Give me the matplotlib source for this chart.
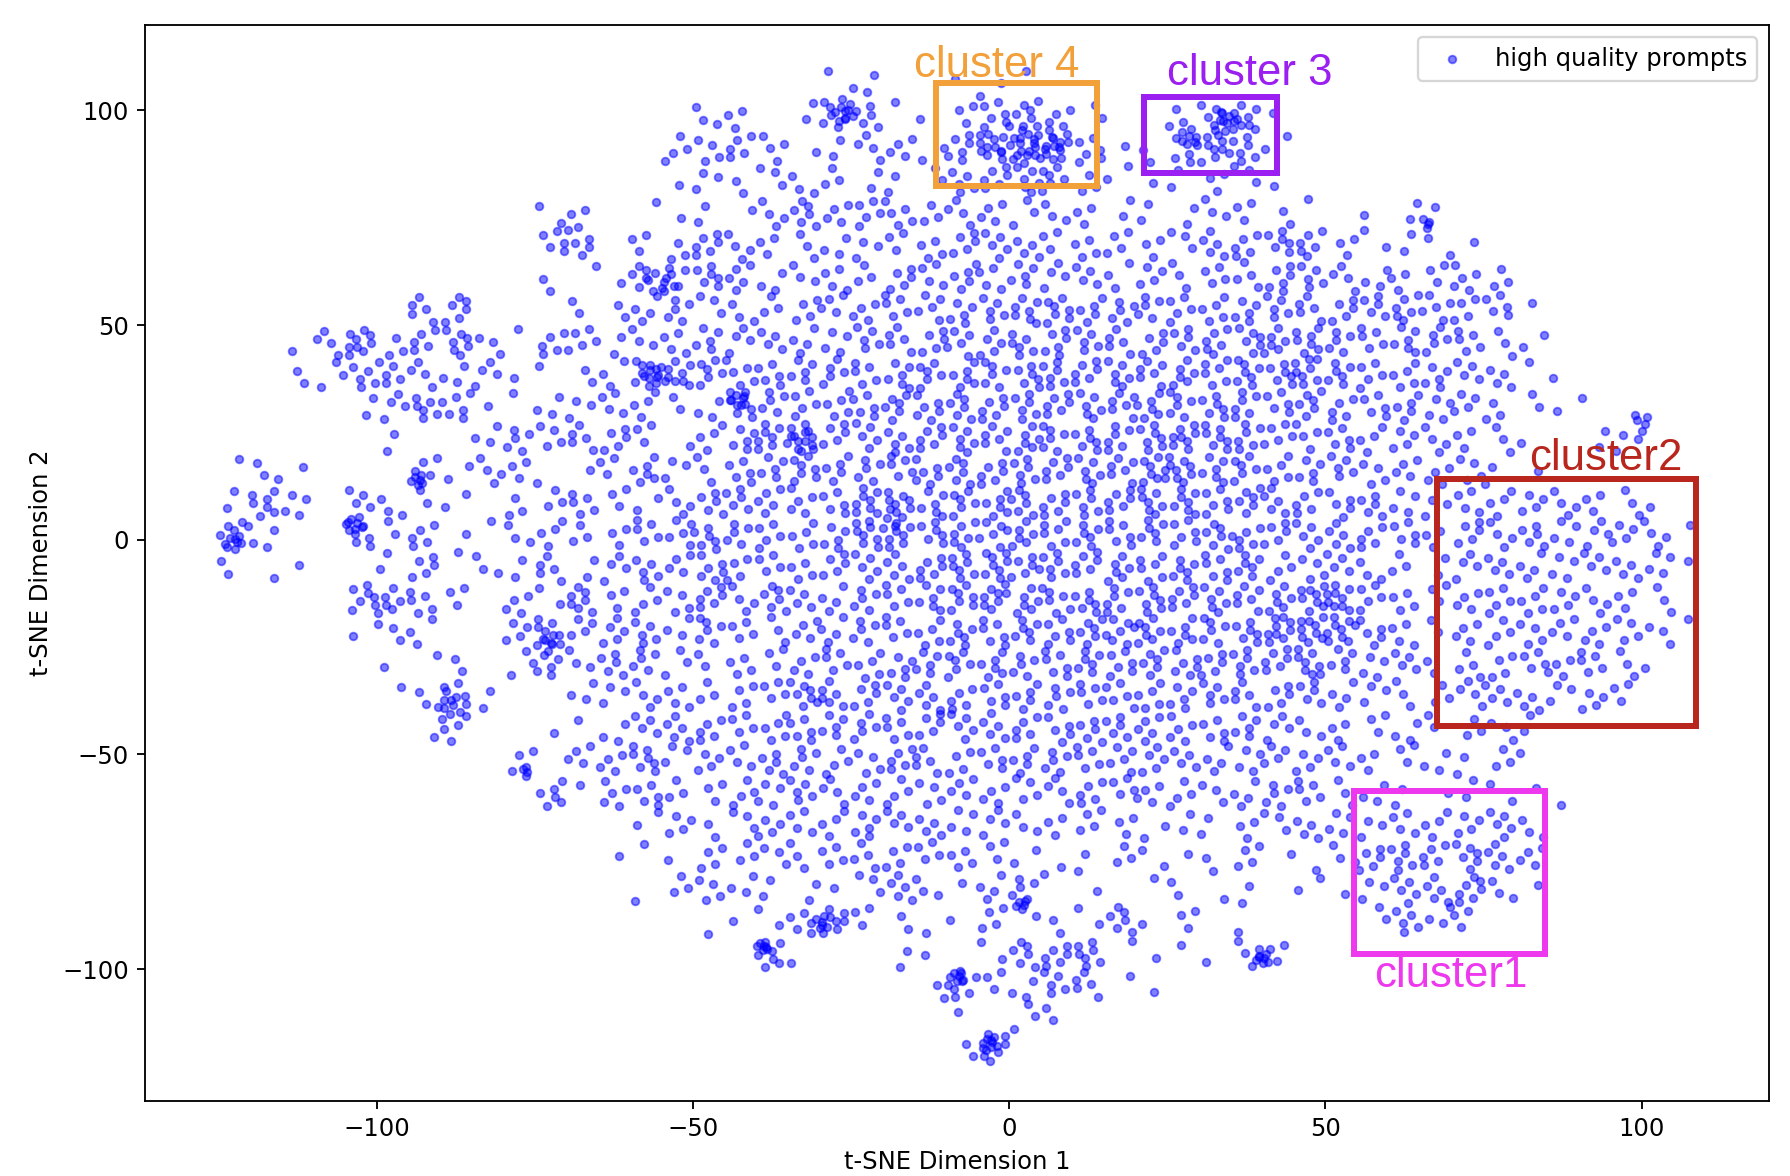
import numpy as np
import matplotlib.pyplot as plt
from matplotlib.patches import Rectangle

plt.rcParams['font.size'] = 10.5

# Point density, one character per cell.
# Cells are 5 units wide (x) and 7.5 units tall (y); the first column starts
# at x = -125, the first row is y = 110 .. 102.5 and rows go downwards.
cell_x0, cell_w = -125.0, 5.0
cell_y0, cell_h = 110.0, 7.5
density_rows = [
    "00000" "00000" "00000" "00001" "30012" "10000" "00000" "00000" "00000" "00",
    "00000" "00000" "00000" "33027" "51136" "65200" "36810" "00000" "00000" "00",
    "00000" "00000" "00004" "45412" "4426a" "9a612" "68620" "00000" "00000" "00",
    "00000" "00000" "00001" "32333" "22256" "66321" "23310" "00000" "00000" "00",
    "00000" "00000" "23011" "21464" "55344" "33322" "23321" "01220" "00000" "00",
    "00000" "00000" "55033" "64333" "33455" "43443" "35566" "32221" "00000" "00",
    "00000" "00000" "21165" "65334" "35454" "54434" "34465" "43335" "30000" "00",
    "00000" "05600" "02245" "33344" "45555" "77555" "55555" "55654" "51000" "00",
    "00149" "35731" "55234" "54444" "55555" "66555" "56667" "55655" "32000" "00",
    "00235" "54341" "12398" "65555" "56666" "66666" "66768" "65554" "41100" "00",
    "00002" "46611" "33442" "38555" "56666" "66666" "66656" "55544" "32111" "00",
    "00000" "20035" "45531" "45785" "55666" "66667" "87654" "54443" "31023" "00",
    "13100" "05243" "11363" "35575" "55666" "66668" "86655" "54444" "21000" "00",
    "27404" "32203" "35324" "55555" "78666" "66667" "76655" "55434" "44433" "10",
    "83007" "25113" "43355" "65555" "77666" "66666" "66655" "55535" "45444" "41",
    "21100" "25132" "52454" "64445" "55678" "66666" "66644" "43324" "44444" "41",
    "00007" "65304" "27344" "64644" "55678" "66667" "66668" "95434" "55443" "30",
    "00001" "33004" "84553" "64344" "55566" "66677" "66699" "95424" "44444" "31",
    "00000" "11203" "53553" "24345" "55566" "56666" "65668" "54424" "44453" "10",
    "00000" "12620" "03344" "34476" "55555" "55555" "55555" "43334" "44343" "00",
    "00000" "01400" "11345" "54555" "55555" "55555" "55543" "33323" "32000" "00",
    "00000" "00004" "04473" "44554" "45545" "55555" "44444" "43332" "31000" "00",
    "00000" "00000" "61553" "34454" "44444" "44544" "43455" "33212" "21100" "00",
    "00000" "00000" "00024" "23444" "54444" "33432" "22334" "43444" "53000" "00",
    "00000" "00000" "00111" "43334" "44443" "21232" "12411" "35656" "54000" "00",
    "00000" "00000" "00013" "43221" "35314" "51101" "21202" "13557" "31000" "00",
    "00000" "00000" "00000" "11248" "32114" "12261" "30100" "02533" "00000" "00",
    "00000" "00000" "00000" "00710" "02102" "66711" "11530" "00000" "00000" "00",
    "00000" "00000" "00000" "00000" "00273" "35511" "00000" "00000" "00000" "00",
    "00000" "00000" "00000" "00000" "00010" "32000" "00000" "00000" "00000" "00",
    "00000" "00000" "00000" "00000" "00027" "00000" "00000" "00000" "00000" "00",
]

# tight clumps (dark spots): centre, number of points, radius
clump_x = [-88.5, -103.5, -93.5, -73.0, -39.0, -30.0, -8.3, -3.0, 40.0, -26.0,
           -56.0, 2.0, -76.5, -55.0, -122.5, -42.5, -20.0, -33.0, 66.0, 100.0,
           34.0, 28.0, 3.0]
clump_y = [-38.5, 4.0, 14.0, -24.0, -94.5, -89.0, -101.5, -117.0, -97.5, 100.0,
           38.5, -85.0, -54.0, 61.0, -0.5, 33.0, 5.0, 23.0, 74.0, 27.0,
           97.0, 94.0, 92.5]
clump_n = [8, 6, 5, 5, 6, 6, 6, 8, 6, 8, 6, 5, 3, 6, 5, 5, 6, 6, 3, 4,
           9, 6, 16]
clump_r = [2.5, 1.5, 1.2, 1.8, 1.0, 1.5, 1.3, 1.5, 1.2, 2.0,
           2.0, 1.0, 0.8, 2.5, 1.5, 1.5, 2.5, 2.5, 1.0, 1.5,
           2.2, 1.8, 5.5]

# annotation boxes drawn on top of the scatter
box_labels = ['cluster1', 'cluster2', 'cluster 3', 'cluster 4']
box_left = [54.6, 67.6, 21.4, -11.5]
box_right = [84.7, 108.6, 42.3, 13.9]
box_bottom = [-96.5, -43.3, 85.4, 82.5]
box_top = [-58.4, 14.1, 103.1, 106.4]
label_x = [69.8, 94.3, 38.1, -2.0]
label_y = [-104.1, 16.3, 106.0, 107.9]
box_colors = ['#EE38EE', '#B8261E', '#9B1FF0', '#F2A03A']

# spread each cell's points over the cell (low-discrepancy sequence)
g1, g2 = 0.7548776662466927, 0.5698402909980532
xs, ys = [], []
k = 0
for r, row in enumerate(density_rows):
    for c, ch in enumerate(row):
        for j in range(int(ch, 36)):
            k += 1
            u = 0.05 + 0.9 * ((0.5 + k * g1) % 1)
            v = 0.05 + 0.9 * ((0.5 + k * g2) % 1)
            xs.append(cell_x0 + (c + u) * cell_w)
            ys.append(cell_y0 - (r + v) * cell_h)

for cx, cy, n, rad in zip(clump_x, clump_y, clump_n, clump_r):
    for j in range(n):
        rr = rad * np.sqrt((j + 0.5) / n)
        th = j * 2.39996
        xs.append(cx + rr * np.cos(th))
        ys.append(cy + 1.47 * rr * np.sin(th) * (0.6 if rad > 5 else 1.0))

dpi = 166
fig = plt.figure(figsize=(1790 / dpi, 1176 / dpi), dpi=dpi)
ax = fig.add_axes([0.081, 0.0642, 0.9075, 0.9145])

ax.scatter(xs, ys, s=11, c='blue', alpha=0.5, linewidths=0.8,
           label='high quality prompts')

ax.set_xlim(-136.6, 120.2)
ax.set_ylim(-130.6, 119.9)
ax.set_xlabel('t-SNE Dimension 1')
ax.set_ylabel('t-SNE Dimension 2')
ax.legend(loc='upper right')

for name, x0, x1, y0, y1, tx, ty, col in zip(box_labels, box_left, box_right,
                                             box_bottom, box_top, label_x,
                                             label_y, box_colors):
    ax.add_patch(Rectangle((x0, y0), x1 - x0, y1 - y0, fill=False,
                           edgecolor=col, linewidth=2.6, zorder=3))
    ax.text(tx, ty, name, color=col, fontsize=19, family='Liberation Sans',
            ha='center', va='baseline', zorder=4)

fig.savefig('out.png', dpi=dpi)
